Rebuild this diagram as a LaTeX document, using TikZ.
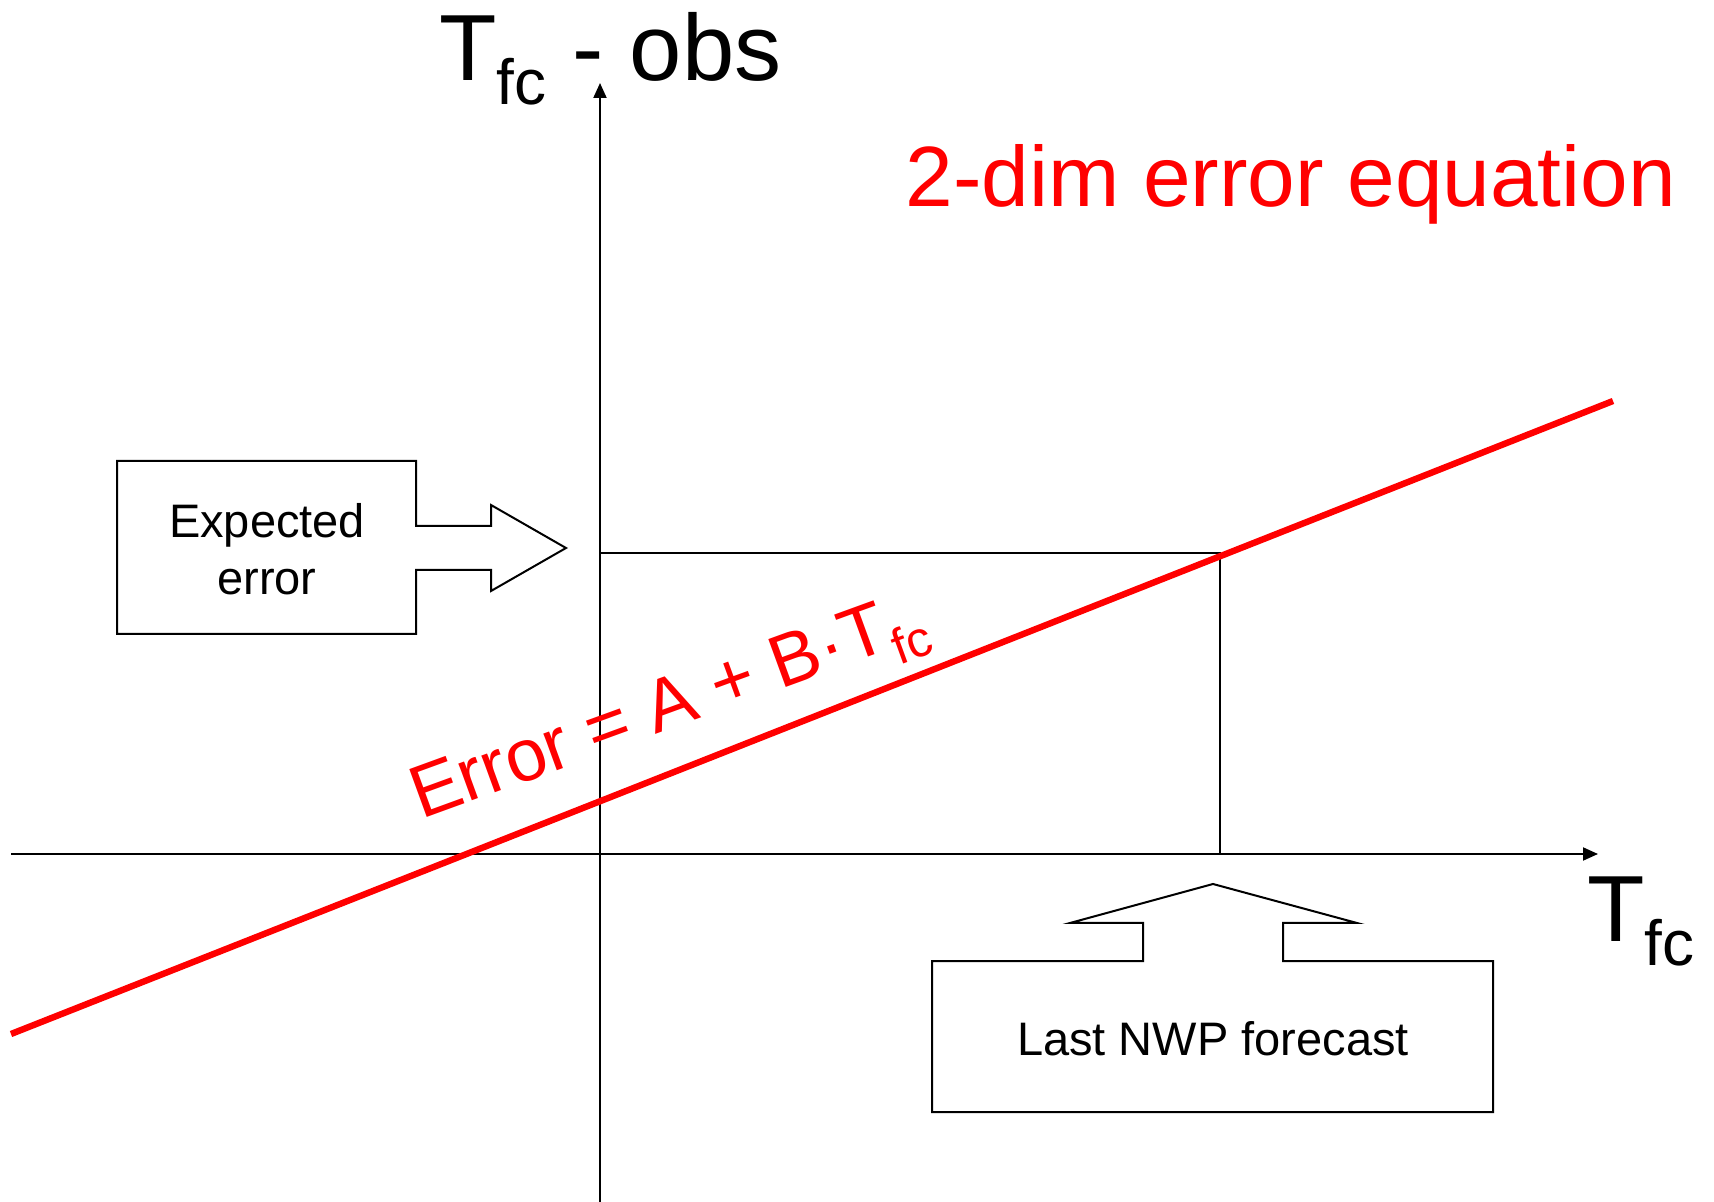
\documentclass[tikz,border=0pt]{standalone}
\usepackage{fontspec}
\setmainfont{Liberation Sans}
\usepackage{graphicx}
\usetikzlibrary{arrows.meta}
\newcommand\lowsub[1]{\raisebox{-0.25em}{\scalebox{0.68}{#1}}}
\begin{document}
\begin{tikzpicture}[x=0.5pt,y=-0.5pt,
  axis/.style={line width=1pt,-{Triangle[length=7.5pt,width=6.5pt]}},
  guide/.style={line width=1pt},
  callout/.style={draw=black,line width=1pt,fill=white},
  redline/.style={draw=red,line width=3.2pt},
  lbl/.style={inner sep=0pt,anchor=base west},
  big/.style={font=\fontsize{47}{56}\selectfont},
  boxtext/.style={inner sep=0pt,anchor=base,font=\fontsize{23.5}{28}\selectfont}]
\useasboundingbox[fill=white] (0,0) rectangle (1714,1202);
% axes
\coordinate (ytop) at (600,83);
\coordinate (ybot) at (600,1202);
\coordinate (xleft) at (11,854);
\coordinate (xright) at (1598,854);
\draw[axis] (ybot) -- (ytop);
\draw[axis] (xleft) -- (xright);
% guide lines
\coordinate (Py) at (600,553);
\coordinate (P) at (1220,553);
\coordinate (Px) at (1220,854);
\draw[guide] (Py) -- (P) -- (Px);
% red regression line
\coordinate (lineA) at (11,1034);
\coordinate (lineB) at (1613,401);
\draw[redline] (lineA) -- (lineB);
% callout: expected error
\draw[callout] (117,461) -- (416,461) -- (416,526) -- (491,526) -- (491,505)
  -- (566,548) -- (491,591) -- (491,570) -- (416,570) -- (416,634) -- (117,634) -- cycle;
\node[boxtext] (exp1) at (267,538) {Expected};
\node[boxtext] (exp2) at (267,595) {error};
% callout: last NWP forecast
\draw[callout] (932,961) -- (1143,961) -- (1143,923) -- (1070,923) -- (1213,884)
  -- (1357,923) -- (1283,923) -- (1283,961) -- (1493,961) -- (1493,1112) -- (932,1112) -- cycle;
\node[boxtext] (nwp) at (1213,1055) {Last NWP forecast};
% axis labels
\node[lbl,big] (ylab) at (439,81) {T\lowsub{fc} - obs};
\node[lbl,big] (xlab) at (1587,942) {T\lowsub{fc}};
% red texts
\node[lbl,text=red,font=\fontsize{42.8}{50}\selectfont] (title) at (905,207) {2-dim error equation};
\node[lbl,text=red,rotate=20,font=\fontsize{37}{44}\selectfont] (eq) at (421,820) {Error = A + B·T\lowsub{fc}};
\end{tikzpicture}
\end{document}
